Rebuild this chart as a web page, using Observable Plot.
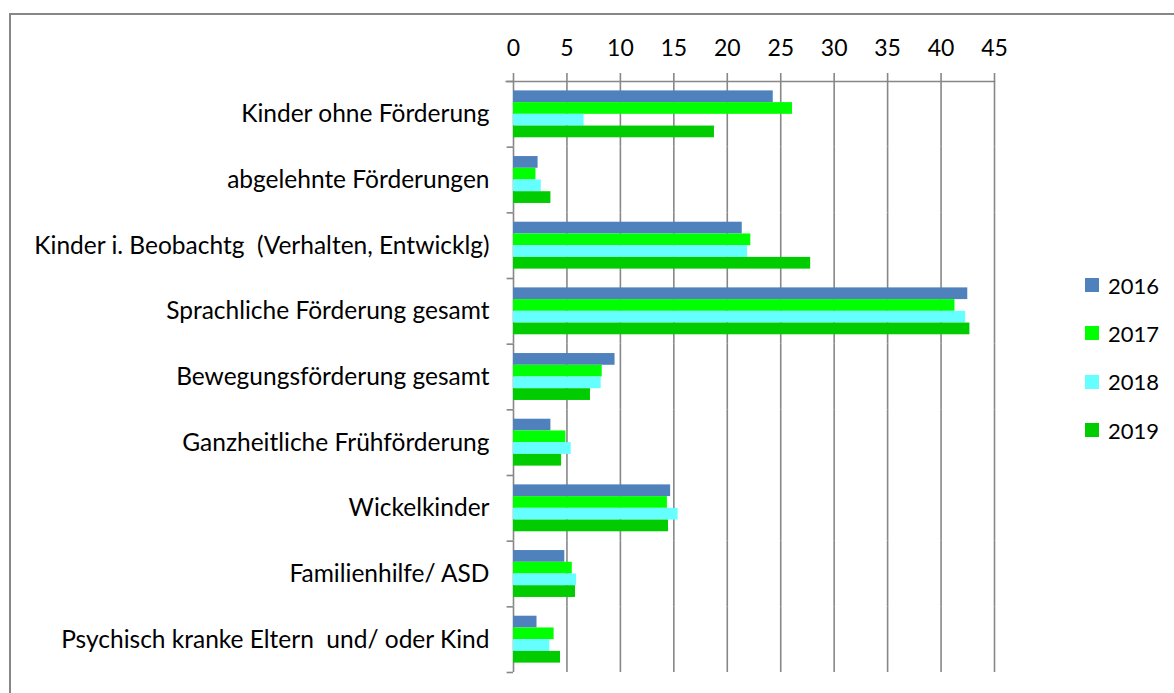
<!DOCTYPE html>
<html><head><meta charset="utf-8">
<script src="https://cdn.jsdelivr.net/npm/d3@7"></script>
<script src="https://cdn.jsdelivr.net/npm/@observablehq/plot@0.6"></script>
<style>
html,body{margin:0;padding:0;background:#fff;overflow:hidden;}
body{width:1174px;height:693px;position:relative;font-family:Lato,sans-serif;}
#frame{position:absolute;left:9px;top:13px;width:1400px;height:900px;border:2px solid #878787;box-sizing:border-box;}
#chart{position:absolute;left:0;top:0;}
#chart svg text{white-space:pre;}
#legend{position:absolute;left:1085px;top:261px;}
.row{display:flex;align-items:center;height:48.3px;font-size:22px;color:#000;}
.sw{width:14px;height:14px;margin-right:9px;}
</style></head><body>
<div id="frame"></div><div id="chart"></div><div id="legend"></div>
<script>
const categories = [
  "Kinder ohne Förderung",
  "abgelehnte Förderungen",
  "Kinder i. Beobachtg  (Verhalten, Entwicklg)",
  "Sprachliche Förderung gesamt",
  "Bewegungsförderung gesamt",
  "Ganzheitliche Frühförderung",
  "Wickelkinder",
  "Familienhilfe/ ASD",
  "Psychisch kranke Eltern  und/ oder Kind"
];
const years = ["2016", "2017", "2018", "2019"];
const v2016 = [24.3, 2.3, 21.4, 42.5, 9.5, 3.5, 14.7, 4.8, 2.2];
const v2017 = [26.1, 2.1, 22.2, 41.3, 8.3, 4.9, 14.4, 5.5, 3.8];
const v2018 = [6.6, 2.6, 21.9, 42.3, 8.2, 5.4, 15.4, 5.9, 3.4];
const v2019 = [18.8, 3.5, 27.8, 42.7, 7.2, 4.5, 14.5, 5.8, 4.4];
const colors = ["#4F81BD", "#00FF00", "#66FFFF", "#00CC00"];
const xTicks = [0, 5, 10, 15, 20, 25, 30, 35, 40, 45];

const series = [v2016, v2017, v2018, v2019];
const table = categories.flatMap((c, i) => years.map((y, j) => ({category: c, year: y, value: series[j][i]})));

const W = 1174, H = 693, marginTop = 81, marginBottom = 21;
const pad = 0.8;
const bandH = (H - marginTop - marginBottom) / categories.length;
const step = bandH / (years.length + 2 * pad);
const edge = pad * step + step / 2;
const grey = "#878787";

const chart = Plot.plot({
  width: W, height: H,
  marginLeft: 513, marginRight: 180, marginTop, marginBottom,
  style: {fontFamily: "Lato, sans-serif", fontSize: "24.5px", color: "#000", background: "transparent"},
  x: {domain: [0, 45]},
  fy: {domain: categories, padding: 0, round: false},
  y: {domain: years, paddingInner: 0, paddingOuter: pad, axis: null, round: false},
  color: {domain: years, range: colors},
  marks: [
    Plot.ruleX(xTicks, {stroke: grey, strokeWidth: 1.6}),
    Plot.barX(table, {x: "value", y: "year", fy: "category", fill: "year"}),
    Plot.ruleY([years[0]], {y: d => d, x1: -0.6, x2: 0, dy: -edge, stroke: grey, strokeWidth: 1.6}),
    Plot.ruleY([{c: categories[0], y: years[0]}], {fy: "c", y: "y", x1: -0.7, x2: 45, dy: -edge, stroke: grey, strokeWidth: 1.6}),
    Plot.ruleY([{c: categories[categories.length - 1], y: years[years.length - 1]}], {fy: "c", y: "y", x1: -0.6, x2: 0, dy: edge, stroke: grey, strokeWidth: 1.6}),
    Plot.axisX(xTicks, {anchor: "top", tickSize: 9, tickPadding: 17, stroke: grey, strokeWidth: 1.6, fill: "#000", fontSize: 23, label: null}),
    Plot.axisFy({anchor: "left", tickSize: 0, tickPadding: 24, label: null, fill: "#000"})
  ]
});
document.getElementById("chart").appendChild(chart);

const legend = document.getElementById("legend");
years.forEach((y, i) => {
  const row = document.createElement("div");
  row.className = "row";
  const sw = document.createElement("div");
  sw.className = "sw";
  sw.style.background = colors[i];
  const t = document.createElement("span");
  t.textContent = y;
  row.appendChild(sw); row.appendChild(t);
  legend.appendChild(row);
});
</script>
</body></html>
